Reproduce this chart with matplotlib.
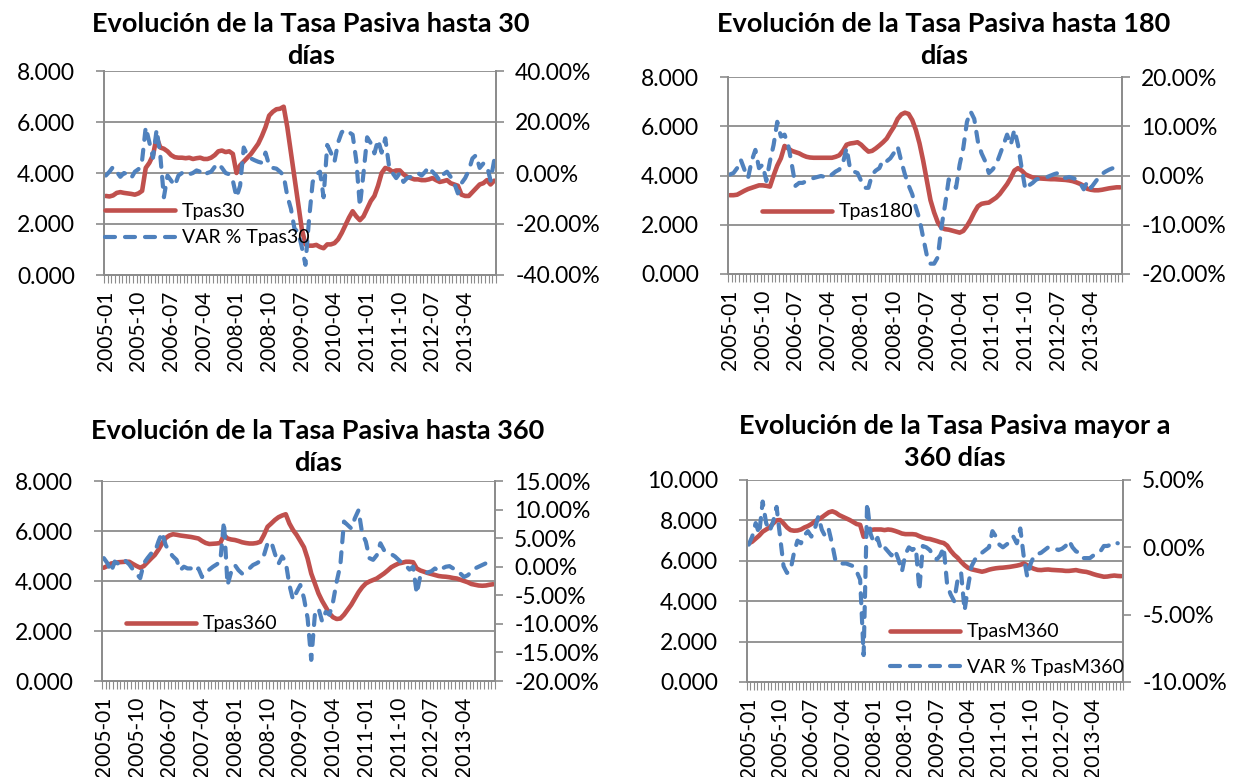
import matplotlib
matplotlib.use('Agg')
import matplotlib.pyplot as plt
from matplotlib.lines import Line2D
from matplotlib.ticker import FixedLocator, FuncFormatter
import numpy as np

plt.rcParams['font.family'] = ['Lato', 'DejaVu Sans']

# ---------------- data ----------------
n_months = 108  # 2005-01 .. 2013-12
tick_labels = ['2005-01', '2005-10', '2006-07', '2007-04', '2008-01', '2008-10',
               '2009-07', '2010-04', '2011-01', '2011-10', '2012-07', '2013-04']

tpas30 = [3.10, 3.08, 3.12, 3.22, 3.25, 3.22, 3.20, 3.18, 3.15, 3.20,
          3.30, 4.20, 4.40, 4.70, 5.40, 5.00, 4.95, 4.85, 4.70, 4.62,
          4.60, 4.60, 4.58, 4.60, 4.55, 4.58, 4.60, 4.55, 4.55, 4.60,
          4.70, 4.85, 4.88, 4.82, 4.85, 4.75, 4.00, 4.30, 4.45, 4.60,
          4.75, 4.95, 5.15, 5.45, 5.80, 6.25, 6.40, 6.50, 6.52, 6.60,
          5.80, 4.80, 3.80, 2.80, 1.80, 1.20, 1.15, 1.15, 1.18, 1.10,
          1.05, 1.20, 1.20, 1.25, 1.40, 1.65, 1.95, 2.25, 2.50, 2.30,
          2.15, 2.30, 2.60, 2.90, 3.10, 3.50, 4.00, 4.20, 4.15, 4.05,
          4.10, 4.10, 3.95, 3.85, 3.80, 3.75, 3.75, 3.72, 3.72, 3.75,
          3.80, 3.72, 3.65, 3.68, 3.72, 3.60, 3.55, 3.50, 3.15, 3.10,
          3.10, 3.25, 3.40, 3.55, 3.60, 3.72, 3.55, 3.70]
var30 = [-1, 0.5, 2.4, 0.5, -1.5, 0, -0.5, -2, 0.5, 1.5,
         5, 18, 12, 6, 17, 7, -9.5, -1, -3, -5,
         -1, 0, 0.5, -0.5, 0, 1, 0.5, -1, 0, 0.5,
         2.4, 3.7, 2, 0, -0.5, -3, -9.5, -5, 10, 7,
         5.7, 5, 4.4, 4, 8, 3, 2, 1.7, 0.5, -1,
         -9, -14, -22, -23, -29, -36, -18, -3.5, -0.5, 0.5,
         -9.5, 11, 8, 4.4, 12, 16, 17, 16, 15, 5,
         -13, 0, 14, 11.7, 7.7, 13, 8, 13.6, 3, 0,
         -2, 0, -3.5, -2, -1.5, -0.5, 0, -1, 0.5, 2.4,
         0.5, -1, -3, -0.5, 0.5, -1.5, -4, -8, -4, -2,
         1, 5.7, 7, 2, 3.7, 3, -3, 5]

tpas180 = [3.20, 3.20, 3.22, 3.30, 3.38, 3.45, 3.50, 3.55, 3.60, 3.60,
           3.58, 3.55, 4.00, 4.40, 4.70, 5.20, 5.10, 5.00, 4.95, 4.90,
           4.82, 4.76, 4.73, 4.72, 4.72, 4.72, 4.72, 4.72, 4.72, 4.76,
           4.82, 5.00, 5.25, 5.30, 5.32, 5.35, 5.25, 5.10, 4.97, 5.00,
           5.10, 5.22, 5.35, 5.50, 5.75, 5.98, 6.30, 6.48, 6.55, 6.50,
           6.25, 5.85, 5.30, 4.60, 3.80, 3.00, 2.50, 2.10, 1.88, 1.82,
           1.80, 1.76, 1.72, 1.68, 1.75, 1.95, 2.20, 2.50, 2.75, 2.85,
           2.88, 2.90, 3.00, 3.10, 3.25, 3.45, 3.65, 3.90, 4.20, 4.30,
           4.20, 4.05, 3.98, 3.92, 3.90, 3.88, 3.87, 3.86, 3.85, 3.85,
           3.84, 3.83, 3.82, 3.80, 3.77, 3.72, 3.66, 3.58, 3.46, 3.42,
           3.40, 3.40, 3.42, 3.45, 3.48, 3.50, 3.52, 3.52]
var180 = [0.2, 0.5, 1.5, 3.2, 1.2, -0.5, 3, 5.2, 1.5, 2.2,
          -1.1, 2.9, 6.2, 10.9, 7.9, 8.3, 6.2, 2.2, -2.1, -1.5,
          -1.5, -1.1, -0.8, -0.5, -0.3, -0.1, -0.3, -0.5, 0.2, 0.8,
          1.2, 2.5, 5.6, 1.2, 0.8, 0.5, -1.1, -2.5, -2.5, 0.2,
          1.0, 1.5, 3.2, 2.9, 3.5, 4.6, 5.9, 2.9, 0.2, -2.0,
          -3.8, -6.5, -8.9, -12.6, -16.2, -17.9, -17.9, -16.6, -10.5, -6,
          -0.8, -1.5, -2.5, 2.2, 5.6, 10.9, 13, 11.5, 6.9, 4.5,
          2.9, 0.5, 1.2, 2.2, 4.2, 6.2, 8.3, 6.2, 9.3, 6.2,
          1.5, -2.8, -2.0, -1.5, -0.8, -0.6, -0.5, -0.3, 0, 0.3,
          0.5, -0.3, -0.5, -0.3, -0.5, -0.8, -1.5, -2.8, -1.2, -2.5,
          -1.5, -0.5, 0.3, 0.8, 1.2, 1.5]

tpas360 = [4.53, 4.60, 4.70, 4.72, 4.75, 4.76, 4.77, 4.77, 4.68, 4.60,
           4.53, 4.60, 4.75, 4.90, 5.04, 5.25, 5.50, 5.72, 5.82, 5.87,
           5.85, 5.82, 5.80, 5.78, 5.76, 5.73, 5.70, 5.60, 5.52, 5.48,
           5.49, 5.50, 5.52, 5.84, 5.70, 5.66, 5.64, 5.60, 5.55, 5.52,
           5.50, 5.50, 5.52, 5.57, 5.84, 6.17, 6.30, 6.44, 6.55, 6.62,
           6.67, 6.30, 6.04, 5.84, 5.60, 5.35, 4.90, 4.30, 3.90, 3.50,
           3.20, 2.95, 2.70, 2.55, 2.48, 2.50, 2.65, 2.85, 3.05, 3.30,
           3.55, 3.75, 3.90, 3.98, 4.04, 4.10, 4.20, 4.30, 4.42, 4.55,
           4.63, 4.70, 4.73, 4.77, 4.77, 4.75, 4.50, 4.42, 4.37, 4.32,
           4.28, 4.24, 4.20, 4.18, 4.17, 4.15, 4.12, 4.10, 4.05, 4.00,
           3.95, 3.88, 3.85, 3.82, 3.81, 3.82, 3.85, 3.87]
var360 = [1.5, 0.6, -0.9, 0.9, 0.5, 0.3, 1.0, 0.4, -0.5, -1.2,
          -2.0, 0.6, 1.5, 2.3, 2.5, 4.4, 6.0, 3.8, 2.6, 1.8,
          1.2, -0.6, 0, -0.3, -0.3, -0.9, -0.3, -1.8, -1.0, -0.5,
          0, 0.4, 0.9, 7.9, -3.2, -0.9, 0.3, -0.6, -1.2, -0.8,
          -0.3, 0.3, 0.6, 1.0, 2.0, 4.1, 4.4, 2.3, 0.5, 1.8,
          0.8, -3.2, -5.8, -4.4, -3.2, -5.5, -9.0, -16.3, -8.4, -7.3,
          -9.6, -7.9, -8.4, -6.1, -2.6, 0.3, 7.9, 7.3, 6.7, 8.5,
          9.9, 5.8, 4.4, 1.5, 1.2, 2.0, 4.1, 2.9, 2.6, 2.2,
          1.8, 1.2, 0.6, 0.2, -0.5, 0, -4.7, -1.5, -1.2, -1.0,
          -0.8, -0.3, -0.8, -0.3, 0, 0.1, -0.3, -0.5, -1.2, -1.8,
          -1.5, -0.9, -0.3, 0, 0.3, 0.6]

tpasm360 = [6.86, 6.95, 7.10, 7.25, 7.44, 7.55, 7.65, 7.85, 8.00, 8.02,
            7.85, 7.65, 7.52, 7.49, 7.50, 7.55, 7.65, 7.72, 7.82, 7.95,
            8.05, 8.15, 8.28, 8.40, 8.45, 8.38, 8.26, 8.18, 8.10, 8.02,
            7.92, 7.82, 7.78, 7.19, 7.44, 7.52, 7.55, 7.55, 7.55, 7.52,
            7.55, 7.53, 7.48, 7.42, 7.35, 7.32, 7.32, 7.32, 7.30, 7.22,
            7.15, 7.10, 7.08, 7.03, 6.98, 6.92, 6.88, 6.75, 6.50, 6.30,
            6.15, 5.95, 5.78, 5.65, 5.58, 5.54, 5.50, 5.46, 5.50, 5.56,
            5.60, 5.63, 5.65, 5.66, 5.68, 5.70, 5.73, 5.76, 5.80, 5.87,
            5.78, 5.67, 5.60, 5.55, 5.54, 5.56, 5.57, 5.55, 5.54, 5.53,
            5.52, 5.50, 5.50, 5.52, 5.54, 5.50, 5.47, 5.45, 5.40, 5.34,
            5.29, 5.25, 5.21, 5.22, 5.25, 5.27, 5.25, 5.24]
varm360 = [0.2, 0.8, 1.8, 1.0, 3.4, 1.8, 1.2, 1.9, 3.0, 0.8,
           -1.4, -1.9, -1.7, -0.4, 0.5, 0.3, 0.9, 1.2, 0.8, 1.4,
           2.3, 1.3, 0.8, 1.3, 0.2, -1.1, -1.2, -1.2, -1.2, -1.3,
           -1.4, -1.8, -2.4, -8.0, 3.3, 1.0, 0.3, 0.7, -0.2, 0,
           -0.3, -0.6, -0.2, -0.9, -1.8, -0.5, 0, -0.2, 0, -3.2,
           0.1, 0, -0.2, -0.6, -0.9, -0.6, 0, -2.8, -3.5, -4.0,
           -2.4, -1.9, -4.7, -2.9, -1.4, -0.9, -0.7, -0.4, -0.2, 0,
           1.2, 0.8, 0.2, 0, 0.2, 0.4, 0.8, 0.3, 1.4, -0.7,
           -2.2, -1.2, -0.6, -0.5, -0.4, -0.2, 0, -0.1, -0.1, -0.2,
           -0.1, 0.1, 0.5, 0, -0.3, -0.4, -0.8, -0.8, -0.8, -0.6,
           -0.5, -0.3, 0.1, 0.1, 0.2, 0.4, 0.3]

# ---------------- style ----------------
W, H = 1238, 777
RED = '#C0504D'
BLUE = '#4F81BD'
GRAY = '#8C8C8C'
FS_Y = 16.5
FS_X = 15
FS_LEG = 14
FS_TITLE = 19.5
RED_LW = 3.3
BLUE_LW = 3.0
DASH = (0, (2.4, 2.4))

fig = plt.figure(figsize=(W / 100, H / 100), dpi=100)


def rect(l, t, r, b):
    return [l / W, 1 - b / H, (r - l) / W, (b - t) / H]


def panel(box, tpas, var, lname, vname, lticks, rticks, title, title_xy,
          leg_xy, leg_spacing, show_var_legend):
    ax = fig.add_axes(rect(*box))
    ax2 = ax.twinx()
    x1 = np.arange(len(tpas))
    x2 = np.arange(len(var))
    ax.plot(x1, tpas, color=RED, lw=RED_LW, solid_capstyle='round',
            solid_joinstyle='round')
    ax2.plot(x2, var, color=BLUE, lw=BLUE_LW, linestyle=DASH,
             dash_capstyle='round', dash_joinstyle='round')

    ax.set_xlim(-0.5, n_months - 0.5)
    ax.set_ylim(lticks[0], lticks[-1])
    ax2.set_ylim(rticks[0], rticks[-1])
    ax.set_yticks(lticks)
    ax2.set_yticks(rticks)
    ax.yaxis.set_major_formatter(FuncFormatter(lambda v, p: f'{v:.3f}'))
    ax2.yaxis.set_major_formatter(FuncFormatter(lambda v, p: f'{v:.2f}%'))
    ax.grid(axis='y', color=GRAY, lw=1.3)
    ax.set_axisbelow(True)

    ax.set_xticks(np.arange(0, n_months, 9)[:len(tick_labels)])
    ax.set_xticklabels(tick_labels, rotation=90)
    ax.xaxis.set_minor_locator(FixedLocator(np.arange(-0.5, n_months, 1)))
    ax.tick_params(axis='x', which='major', length=0, pad=11, labelsize=FS_X)
    ax.tick_params(axis='x', which='minor', length=5.8, width=0.8,
                   color=GRAY, direction='out')
    ax.tick_params(axis='y', length=5.8, width=1.2, color=GRAY,
                   labelsize=FS_Y, pad=15)
    ax2.tick_params(axis='y', length=5.8, width=1.2, color=GRAY,
                    labelsize=FS_Y, pad=8)

    for a in (ax, ax2):
        a.spines['top'].set_visible(False)
        for s in ('left', 'right', 'bottom'):
            a.spines[s].set_color(GRAY)
            a.spines[s].set_linewidth(1.3)

    fig.text(title_xy[0] / W, 1 - title_xy[1] / H, title, ha='center',
             va='center', fontsize=FS_TITLE, fontweight='bold',
             linespacing=1.38)

    handles = [Line2D([], [], color=RED, lw=RED_LW, solid_capstyle='round')]
    labels = [lname]
    if show_var_legend:
        handles.append(Line2D([], [], color=BLUE, lw=BLUE_LW, linestyle=DASH,
                              dash_capstyle='round'))
        labels.append(vname)
    leg = ax2.legend(handles, labels, loc='center left',
                     bbox_to_anchor=(leg_xy[0] / W, 1 - leg_xy[1] / H),
                     bbox_transform=fig.transFigure, frameon=False,
                     fontsize=FS_LEG, handlelength=3.6, handletextpad=0.36,
                     labelspacing=leg_spacing, borderpad=0, borderaxespad=0)
    leg.set_zorder(10)
    return ax, ax2


panel((104, 71, 496, 275), tpas30, var30, 'Tpas30', 'VAR % Tpas30',
      [0, 2, 4, 6, 8], [-40, -20, 0, 20, 40],
      'Evolución de la Tasa Pasiva hasta 30\ndías', (311, 40),
      (105, 224.5), 0.5, True)
panel((728, 77, 1122, 274), tpas180, var180, 'Tpas180', 'VAR % Tpas180',
      [0, 2, 4, 6, 8], [-20, -10, 0, 10, 20],
      'Evolución de la Tasa Pasiva hasta 180\ndías', (944, 40),
      (762, 212), 0.5, False)
panel((102, 481, 495, 681), tpas360, var360, 'Tpas360', 'VAR % Tpas360',
      [0, 2, 4, 6, 8], [-20, -15, -10, -5, 0, 5, 10, 15],
      'Evolución de la Tasa Pasiva hasta 360\ndías', (318, 447),
      (126, 624), 0.5, False)
panel((747, 480, 1123, 682), tpasm360, varm360, 'TpasM360', 'VAR % TpasM360',
      [0, 2, 4, 6, 8, 10], [-10, -5, 0, 5],
      'Evolución de la Tasa Pasiva mayor a\n360 días', (955, 442),
      (890, 649.5), 0.93, True)

fig.savefig('out.png', dpi=100)
